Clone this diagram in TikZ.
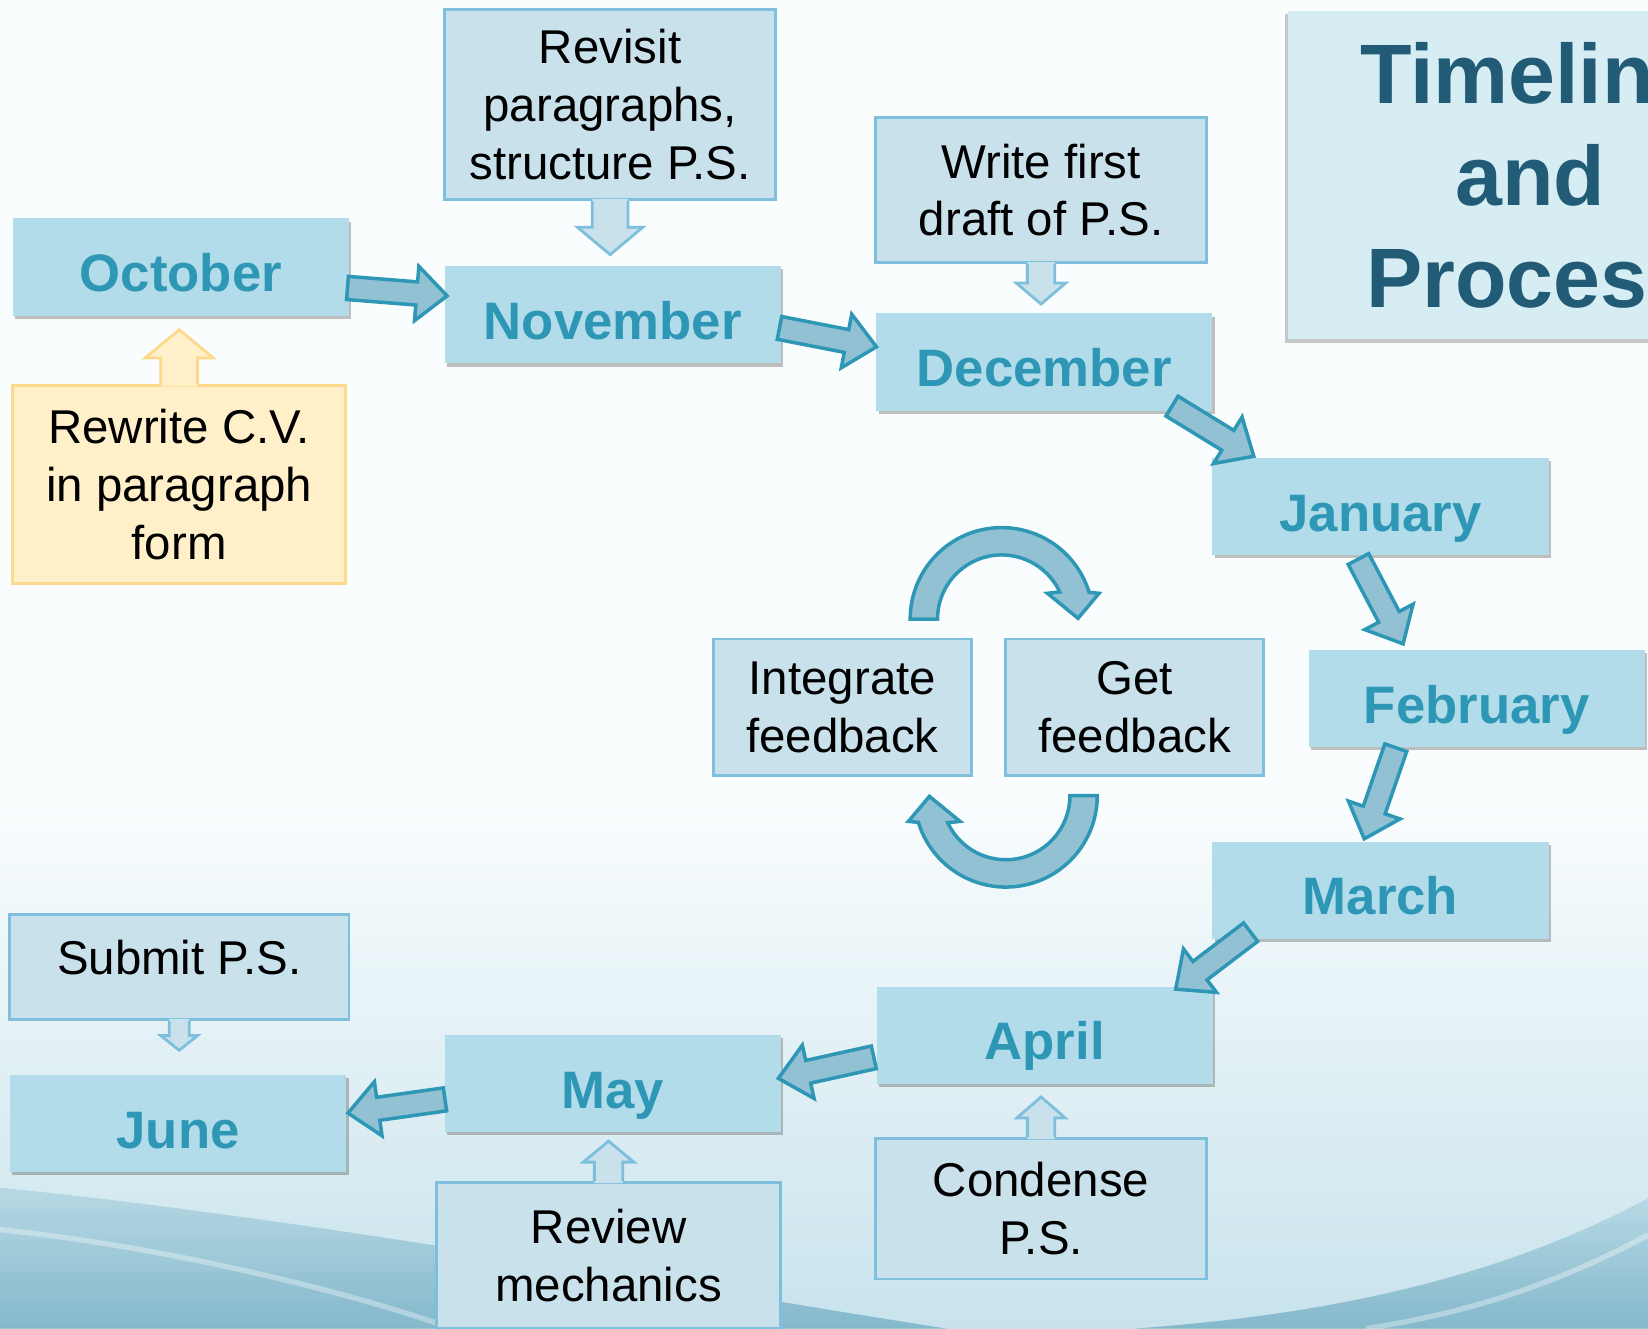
\documentclass[tikz,border=0pt]{standalone}
\usepackage{fontspec}
\setmainfont{Liberation Sans}
\usetikzlibrary{calc,shadows}

\definecolor{monthfill}{RGB}{178,220,233}
\definecolor{monthtext}{RGB}{46,151,182}
\definecolor{notefill}{RGB}{201,225,235}
\definecolor{noteline}{RGB}{125,191,221}
\definecolor{cvfill}{RGB}{255,240,202}
\definecolor{cvline}{RGB}{254,217,140}
\definecolor{flowfill}{RGB}{146,193,211}
\definecolor{flowline}{RGB}{46,151,182}
\definecolor{titlefill}{RGB}{214,237,244}
\definecolor{titletext}{RGB}{34,91,118}
\definecolor{bgtop}{RGB}{250,253,254}
\definecolor{bgbot}{RGB}{200,227,236}
\definecolor{wavedark}{RGB}{120,177,198}
\definecolor{wavelight}{RGB}{178,214,226}

% block arrow between two points
\newcommand\flowarrow[2]{%
    \coordinate (fa-s) at #1;
    \coordinate (fa-t) at #2;
    \coordinate (fa-b) at ($(fa-t)!0.305cm!(fa-s)$);
    \filldraw[flow] ($(fa-s)!0.116cm!90:(fa-t)$) -- ($(fa-b)!0.116cm!90:(fa-t)$)
        -- ($(fa-b)!0.273cm!90:(fa-t)$) -- (fa-t) -- ($(fa-b)!0.273cm!-90:(fa-t)$)
        -- ($(fa-b)!0.116cm!-90:(fa-t)$) -- ($(fa-s)!0.116cm!-90:(fa-t)$) -- cycle;
}

% hollow callout arrow: style, base, dir, shaft half, shaft length, head half, head length
\newcommand\notearrow[7]{%
    \fill[#1, draw=none] (#2) ++({-#4},{-(#3)*2}) -- ++(0,{(#3)*(#5+2)}) -- ++({#4-#6},0)
        -- ++({#6},{(#3)*#7}) -- ++({#6},{-(#3)*#7}) -- ++({#4-#6},0) -- ++(0,{-(#3)*(#5+2)}) -- cycle;
    \draw[#1, fill=none] (#2) ++({-#4},0) -- ++(0,{(#3)*#5}) -- ++({#4-#6},0)
        -- ++({#6},{(#3)*#7}) -- ++({#6},{-(#3)*#7}) -- ++({#4-#6},0) -- ++(0,{-(#3)*#5});
}

\begin{document}
\begin{tikzpicture}[x={(0.01051cm,0cm)}, y={(0cm,-0.01051cm)},
    month/.style={rectangle, fill=monthfill, text=monthtext, inner sep=2pt,
        font=\fontsize{15}{18}\selectfont\bfseries, text height=14pt, text depth=0pt,
        minimum width=3.363cm, minimum height=0.972cm,
        drop shadow={shadow xshift=0.7pt, shadow yshift=-0.9pt, opacity=0.35, fill=black!70}},
    note/.style={rectangle, fill=notefill, draw=noteline, line width=0.8pt, align=center,
        font=\fontsize{13.5}{16.4}\selectfont},
    cvnote/.style={note, fill=cvfill, draw=cvline},
    notelink/.style={fill=notefill, draw=noteline, line width=0.8pt},
    cvlink/.style={fill=cvfill, draw=cvline, line width=0.8pt},
    flow/.style={fill=flowfill, draw=flowline, line width=1pt},
    title/.style={rectangle, fill=titlefill, text=titletext, align=center,
        font=\fontsize{24}{29}\selectfont\bfseries,
        minimum width=4.856cm, minimum height=3.29cm,
        drop shadow={shadow xshift=-0.8pt, shadow yshift=-1pt, opacity=0.3, fill=black!70}}]

    % canvas
    \useasboundingbox (0,0) rectangle (1568,1264);
    \clip (0,0) rectangle (1568,1264);

    % background
    \fill[bgtop] (0,0) rectangle (1568,760);
    \shade[top color=bgtop, bottom color=bgbot] (0,759) rectangle (1568,1264);
    \shade[top color=wavelight, bottom color=wavedark, opacity=0.85] (0,1130) .. controls (300,1160) and (650,1225) .. (900,1264) -- (0,1264) -- cycle;
    \draw[white, opacity=0.35, line width=1.5pt] (0,1170) .. controls (150,1185) and (330,1228) .. (430,1264);
    \shade[top color=wavelight, bottom color=wavedark, opacity=0.85] (1568,1140) .. controls (1420,1220) and (1250,1252) .. (1080,1264) -- (1568,1264) -- cycle;
    \draw[white, opacity=0.35, line width=1.5pt] (1568,1175) .. controls (1470,1228) and (1380,1252) .. (1300,1264);

    % title
    \node[title] (title) at (1456,166.5) {Timelin\phantom{e}\\and\\Proces\phantom{s}};

    % months
    \node[month] (oct) at (172,254) {October};
    \node[month] (nov) at (583,299.5) {November};
    \node[month] (dec) at (993.5,344.5) {December};
    \node[month] (jan) at (1313.5,482) {January};
    \node[month] (feb) at (1405,664.5) {February};
    \node[month] (mar) at (1313.5,847) {March};
    \node[month] (apr) at (994,985) {April};
    \node[month] (may) at (583,1031) {May};
    \node[month] (jun) at (169.5,1069) {June};

    % tasks
    \node[note, minimum width=3.311cm, minimum height=1.902cm] (revisit) at (580.5,99.5) {Revisit\\paragraphs,\\structure P.S.};
    \node[note, minimum width=3.311cm, minimum height=1.450cm] (draft) at (990.5,181) {Write first\\draft of P.S.};
    \node[cvnote, minimum width=3.332cm, minimum height=1.976cm] (cv) at (170.5,461) {Rewrite C.V.\\in paragraph\\form};
    \node[note, minimum width=2.575cm, minimum height=1.366cm] (integrate) at (801.5,673) {Integrate\\feedback};
    \node[note, minimum width=2.575cm, minimum height=1.366cm] (getfb) at (1079.5,673) {Get\\feedback};
    \node[note, minimum width=3.395cm, minimum height=1.051cm, text depth=0.19cm] (submit) at (170.5,920) {Submit P.S.};
    \node[note, minimum width=3.447cm, minimum height=1.461cm] (review) at (579,1194.5) {Review\\mechanics};
    \node[note, minimum width=3.311cm, minimum height=1.408cm] (condense) at (990.5,1150) {Condense\\P.S.};

    % task pointers
    \notearrow{notelink}{revisit.south}{1}{17}{25}{31}{26}
    \notearrow{notelink}{draft.south}{1}{13}{18}{23.5}{20}
    \notearrow{cvlink}{cv.north}{-1}{17.5}{25}{32.5}{27}
    \notearrow{notelink}{submit.south}{1}{9.5}{14}{17.5}{14}
    \notearrow{notelink}{review.north}{-1}{13.5}{18}{24}{20}
    \notearrow{notelink}{condense.north}{-1}{13}{18}{23}{20}

    % month to month
    \flowarrow{($(oct.east)+(-2,20)$)}{($(nov.west)+(3,-18)$)}
    \flowarrow{($(nov.east)+(-2,12.5)$)}{($(dec.west)+(1,-14.5)$)}
    \flowarrow{($(dec.south east)+(-39,-5)$)}{($(jan.north west)+(40,-1)$)}
    \flowarrow{($(jan.south)+(-21,3)$)}{($(feb.north)+(-70,-5)$)}
    \flowarrow{($(feb.south)+(-77,0)$)}{($(mar.north)+(-15.5,-2)$)}
    \flowarrow{($(mar.south west)+(37,-7)$)}{($(apr.north east)+(-36,3)$)}
    \flowarrow{($(apr.west)+(-2,21)$)}{($(may.east)+(-3,-5)$)}
    \flowarrow{($(may.west)+(1,15)$)}{($(jun.east)+(1,-10)$)}

    % feedback loop
    \foreach \cx/\cy/\turn in {953/589/0, 957/757/180}{
        \begin{scope}[shift={(\cx,\cy)}, rotate=\turn]
            \filldraw[flow] (180:87) arc[start angle=180, end angle=343, radius=87]
                -- (92.7,-24.5) -- (72.7,-0.7) -- (43.6,-24.5)
                -- (335:61) arc[start angle=335, end angle=180, radius=61] -- cycle;
        \end{scope}
    }

\end{tikzpicture}
\end{document}
